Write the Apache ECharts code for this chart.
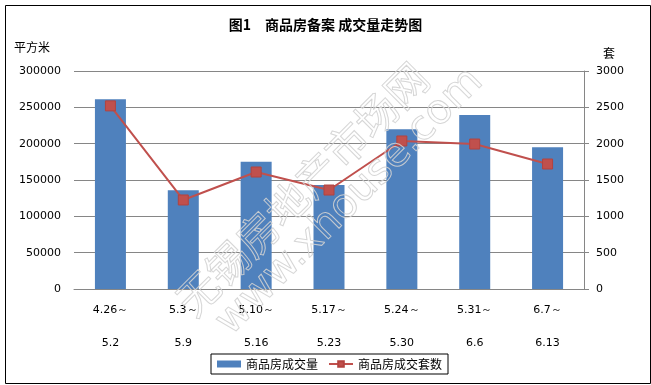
<!DOCTYPE html>
<html>
<head>
<meta charset="utf-8">
<script src="https://cdn.jsdelivr.net/npm/echarts@6/dist/echarts.min.js"></script>
<style>html,body{margin:0;padding:0;background:#fff;}#c{width:651px;height:385px;}</style>
</head>
<body>
<div id="c"></div>
<script>
var categories = ['4.26～\n5.2', '5.3～\n5.9', '5.10～\n5.16', '5.17～\n5.23', '5.24～\n5.30', '5.31～\n6.6', '6.7～\n6.13'];
var areaValues = [261000, 136000, 175000, 143000, 220000, 239500, 195000];
var unitValues = [2520, 1225, 1610, 1362, 2037, 1995, 1720];
var leftTicks = [0, 50000, 100000, 150000, 200000, 250000, 300000];
var rightTicks = [0, 500, 1000, 1500, 2000, 2500, 3000];

var chart = echarts.init(document.getElementById('c'), null, {renderer: 'canvas'});
var cjk = '"Noto Sans CJK SC", "DejaVu Sans", sans-serif';
var num = '"DejaVu Sans", sans-serif';
var wmRot = 45 * Math.PI / 180;
chart.setOption({
  backgroundColor: '#fff',
  animation: false,
  title: {
    text: '图1　商品房备案 成交量走势图',
    left: 'center',
    top: 13,
    textStyle: {fontFamily: cjk, fontSize: 14, fontWeight: 'bold', color: '#000'}
  },
  grid: {left: 74, right: 67, top: 71, bottom: 96, containLabel: false},
  legend: {
    left: 211, top: 354,
    padding: [4, 6],
    itemGap: 10,
    itemWidth: 24, itemHeight: 7,
    borderColor: '#000', borderWidth: 1,
    textStyle: {fontFamily: cjk, fontSize: 12, color: '#000'},
    data: [{name: '商品房成交量', icon: 'rect'}, {name: '商品房成交套数'}]
  },
  xAxis: {
    type: 'category',
    data: categories,
    axisLine: {lineStyle: {color: '#868686', width: 1}},
    axisTick: {show: false},
    axisLabel: {fontFamily: num, fontSize: 11, color: '#000', lineHeight: 33, margin: 5, interval: 0}
  },
  yAxis: [{
    type: 'value', min: leftTicks[0], max: leftTicks[leftTicks.length - 1], interval: leftTicks[1] - leftTicks[0],
    axisLine: {show: false}, axisTick: {show: false},
    splitLine: {lineStyle: {color: '#868686', width: 1}},
    axisLabel: {fontFamily: num, fontSize: 11, color: '#000', margin: 13, formatter: function (v) { return String(v); }}
  }, {
    type: 'value', min: rightTicks[0], max: rightTicks[rightTicks.length - 1], interval: rightTicks[1] - rightTicks[0], position: 'right',
    axisLine: {show: true, lineStyle: {color: '#868686', width: 1}},
    axisTick: {show: true, length: 5, lineStyle: {color: '#868686'}},
    splitLine: {show: false},
    axisLabel: {fontFamily: num, fontSize: 11, color: '#000', margin: 12, formatter: function (v) { return String(v); }}
  }],
  series: [{
    name: '商品房成交量', type: 'bar', data: areaValues, barWidth: 31,
    itemStyle: {color: '#4F81BD'}
  }, {
    name: '商品房成交套数', type: 'line', yAxisIndex: 1, data: unitValues,
    symbol: 'rect', symbolSize: 10,
    lineStyle: {color: '#C0504D', width: 2},
    itemStyle: {color: '#C0504D', borderColor: '#B3433F', borderWidth: 1}
  }],
  graphic: [
    {type: 'rect', left: 3, top: 3, shape: {x: 0, y: 0, width: 645, height: 378}, style: {fill: 'none', stroke: '#000', lineWidth: 1}, silent: true, z: -1},
    {type: 'text', left: 14, top: 41, style: {text: '平方米', font: '12px ' + cjk, fill: '#000'}},
    {type: 'text', left: 603, top: 47, style: {text: '套', font: '12px ' + cjk, fill: '#000'}},
    {type: 'text', x: 302, y: 189, rotation: wmRot, z: 100, silent: true,
      style: {text: '无锡房地产市场网', font: '42px ' + cjk, fill: 'none', stroke: 'rgba(210,210,210,0.9)', lineWidth: 1, textAlign: 'center', textVerticalAlign: 'middle'}},
    {type: 'text', x: 350, y: 202, rotation: wmRot, z: 100, silent: true,
      style: {text: 'www.xhouse.com', font: '41px ' + num, fill: 'none', stroke: 'rgba(210,210,210,0.9)', lineWidth: 1, textAlign: 'center', textVerticalAlign: 'middle'}}
  ]
});
</script>
</body>
</html>
